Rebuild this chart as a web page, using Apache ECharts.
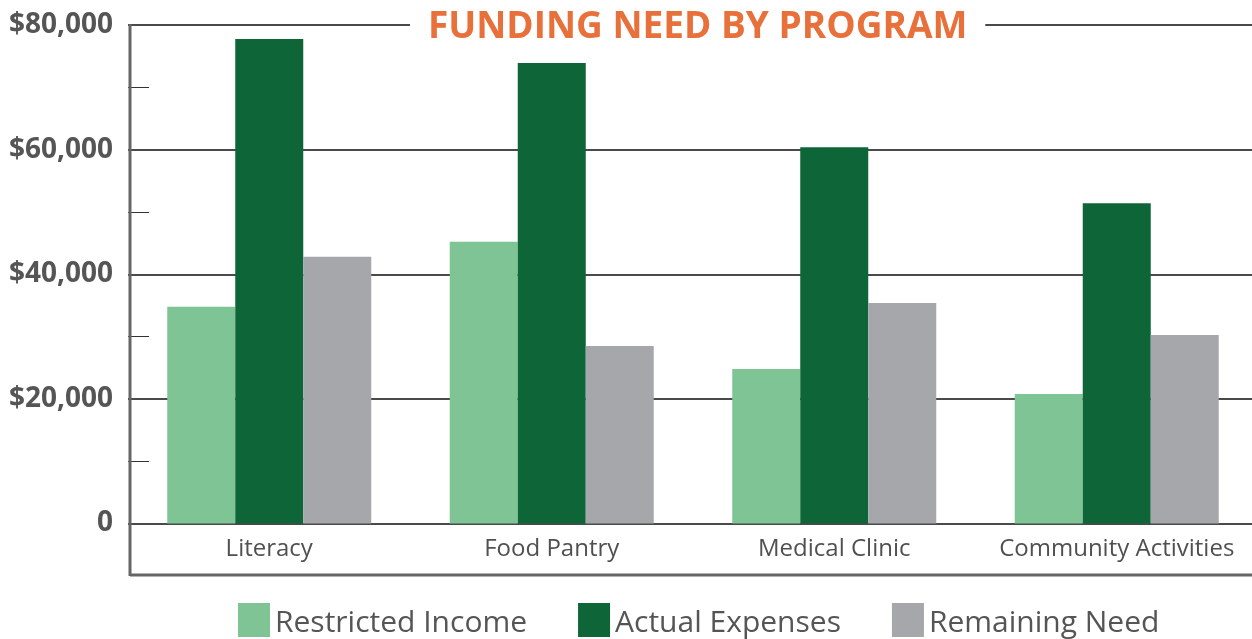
<!DOCTYPE html>
<html>
<head>
<meta charset="utf-8">
<script src="https://cdn.jsdelivr.net/npm/echarts@6/dist/echarts.min.js"></script>
<style>
html,body{margin:0;padding:0;background:#fff;}
#chart{width:1252px;height:639px;}
</style>
</head>
<body>
<div id="chart"></div>
<script>
const categories = ['Literacy', 'Food Pantry', 'Medical Clinic', 'Community Activities'];
const seriesNames = ['Restricted Income', 'Actual Expenses', 'Remaining Need'];
const restrictedIncome = [34800, 45200, 24800, 20800];
const actualExpenses = [77750, 73900, 60400, 51400];
const remainingNeed = [42800, 28500, 35400, 30250];
const yTicks = [0, 20000, 40000, 60000, 80000];

const chart = echarts.init(document.getElementById('chart'), null, {renderer: 'canvas'});
const FONT = '"Open Sans", "DejaVu Sans", sans-serif';
const colors = ['#7EC495', '#0E6638', '#A6A7AA'];

chart.setOption({
  animation: false,
  backgroundColor: '#fff',
  title: {
    text: 'FUNDING NEED BY PROGRAM',
    left: 410,
    top: 7,
    padding: [0, 18],
    backgroundColor: '#fff',
    textStyle: {
      fontFamily: FONT,
      fontSize: 37,
      fontWeight: 'bold',
      color: '#E8703A',
      lineHeight: 40
    }
  },
  legend: {
    left: 238,
    top: 603,
    padding: 0,
    itemWidth: 32,
    itemHeight: 34,
    itemGap: 51,
    icon: 'rect',
    data: seriesNames,
    formatter: function (name) { return '{t|' + name + '}'; },
    textStyle: {
      fontFamily: FONT, fontSize: 30, color: '#555',
      rich: {t: {fontFamily: FONT, fontSize: 30, color: '#555', padding: [7, 0, 0, 0]}}
    }
  },
  grid: {left: 128, width: 1130, top: 25, height: 498.5, containLabel: false, outerBoundsMode: 'none'},
  xAxis: {
    type: 'category',
    data: categories,
    axisLine: {show: false},
    axisTick: {show: false},
    axisLabel: {
      interval: 0,
      hideOverlap: false,
      margin: 14,
      fontFamily: FONT,
      fontSize: 24,
      color: '#505050'
    }
  },
  yAxis: {
    type: 'value',
    min: yTicks[0],
    max: yTicks[yTicks.length - 1],
    interval: 20000,
    axisLine: {show: false},
    axisTick: {show: false, inside: true},
    minorTick: {show: true, splitNumber: 2, length: 21, lineStyle: {color: '#333', width: 1}},
    splitLine: {show: true, lineStyle: {color: '#4a4a4a', width: 2}},
    axisLabel: {
      margin: 15,
      fontFamily: FONT,
      fontSize: 28,
      fontWeight: 'bold',
      color: '#555',
      formatter: function (v) {
        return v === 0 ? '0' : '$' + v.toLocaleString('en-US');
      }
    }
  },
  graphic: [
    {type: 'line', shape: {x1: 130, y1: 24, x2: 130, y2: 576}, style: {stroke: '#666', lineWidth: 3}, z: 10},
    {type: 'line', shape: {x1: 130, y1: 575, x2: 1252, y2: 575}, style: {stroke: '#666', lineWidth: 3}, z: 10}
  ],
  series: [
    {name: seriesNames[0], type: 'bar', data: restrictedIncome, barWidth: 68, barGap: '0%', itemStyle: {color: colors[0]}},
    {name: seriesNames[1], type: 'bar', data: actualExpenses, barWidth: 68, barGap: '0%', itemStyle: {color: colors[1]}},
    {name: seriesNames[2], type: 'bar', data: remainingNeed, barWidth: 68, barGap: '0%', itemStyle: {color: colors[2]}}
  ]
});
</script>
</body>
</html>
